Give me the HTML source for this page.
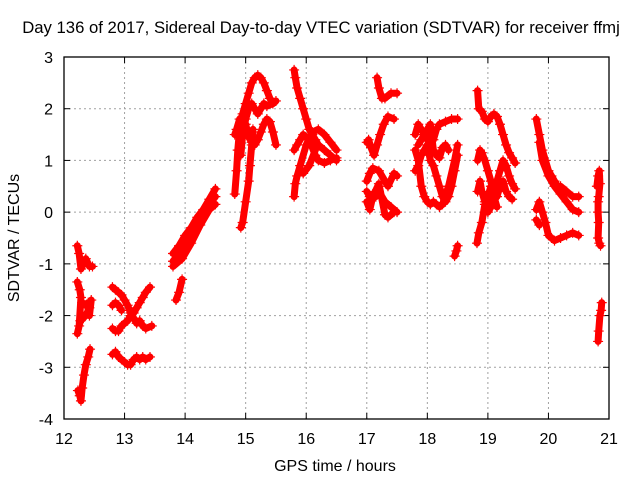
<!DOCTYPE html>
<html><head><meta charset="utf-8"><style>
body{margin:0;background:#fff}
svg{display:block;font-family:"Liberation Sans",sans-serif}
</style></head><body>
<svg id="chart" width="640" height="480">
<rect width="640" height="480" fill="#fff"/>
<text x="321" y="33" text-anchor="middle" font-size="16.7">Day 136 of 2017, Sidereal Day-to-day VTEC variation (SDTVAR) for receiver ffmj</text>
<text x="335" y="471" text-anchor="middle" font-size="16">GPS time / hours</text>
<text transform="translate(19,238) rotate(-90)" text-anchor="middle" font-size="16">SDTVAR / TECUs</text>
<g id="grid"></g><g id="ticks"></g><g id="marks"></g>
<rect x="64" y="57" width="545" height="362" fill="none" stroke="#000" stroke-width="1.3"/>
</svg>
<script>
const xTicks=[12,13,14,15,16,17,18,19,20,21];
const yTicks=[3,2,1,0,-1,-2,-3,-4];
const arcs={
a1:[[12.22,-0.65],[12.25,-0.8],[12.28,-1.1],[12.32,-1.0],[12.36,-0.9],[12.42,-1.05],[12.47,-1.05]],
a2:[[12.22,-1.35],[12.26,-1.5],[12.28,-1.65],[12.25,-2.2],[12.22,-2.35],[12.27,-2.1],[12.32,-2.05],[12.38,-1.95],[12.42,-1.85],[12.45,-1.7],[12.42,-2.0]],
a2b:[[12.3,-1.75],[12.35,-1.8],[12.4,-1.75]],
a3:[[12.23,-3.45],[12.26,-3.55],[12.28,-3.65],[12.3,-3.4],[12.33,-3.15],[12.36,-2.95],[12.4,-2.8],[12.43,-2.65]],
b1:[[12.8,-1.45],[12.85,-1.5],[12.9,-1.55],[12.95,-1.6],[13.0,-1.7],[13.05,-1.8],[13.1,-1.95],[13.15,-2.05],[13.2,-2.15],[13.25,-2.1],[13.3,-2.2],[13.35,-2.25],[13.45,-2.2]],
b2:[[12.8,-2.25],[12.85,-2.3],[12.9,-2.3],[12.95,-2.2],[13.0,-2.15],[13.05,-2.1],[13.1,-2.0],[13.15,-1.95],[13.2,-1.85],[13.25,-1.75],[13.3,-1.65],[13.35,-1.55],[13.42,-1.45]],
b3:[[12.8,-1.8],[12.85,-1.75],[12.9,-1.8],[12.95,-1.9]],
b4:[[12.8,-2.75],[12.85,-2.7],[12.9,-2.8],[12.95,-2.85],[13.0,-2.9],[13.05,-2.95],[13.1,-2.95],[13.15,-2.85],[13.2,-2.8],[13.25,-2.85],[13.3,-2.8],[13.35,-2.85],[13.42,-2.8]],
c1:[[13.8,-0.8],[13.9,-0.65],[14.0,-0.45],[14.1,-0.3],[14.2,-0.1],[14.3,0.05],[14.4,0.25],[14.5,0.45]],
c1b:[[13.8,-0.95],[13.9,-0.8],[14.0,-0.6],[14.1,-0.45],[14.2,-0.2],[14.3,-0.05],[14.4,0.15],[14.5,0.3]],
c2:[[13.8,-1.05],[13.95,-0.9],[14.1,-0.6],[14.25,-0.25],[14.4,0.05],[14.5,0.15]],
c3:[[13.85,-1.7],[13.9,-1.55],[13.95,-1.3]],
d1:[[14.82,0.35],[14.85,0.8],[14.87,1.2],[14.9,1.6],[14.95,1.9],[15.0,2.1],[15.05,2.3],[15.1,2.5],[15.15,2.6],[15.2,2.65],[15.25,2.6],[15.3,2.5],[15.35,2.35],[15.4,2.2],[15.45,2.1]],
d2:[[14.82,1.5],[14.85,1.6],[14.9,1.8],[14.95,1.85],[15.0,1.7],[15.05,1.45],[15.1,1.35],[15.15,1.3],[15.2,1.4],[15.25,1.55],[15.3,1.7],[15.35,1.8],[15.4,1.75],[15.45,1.55],[15.5,1.3]],
d3:[[14.87,1.2],[14.92,1.1],[14.95,1.5],[15.0,1.8],[15.05,2.0],[15.1,2.1],[15.15,2.0],[15.2,1.9],[15.25,2.0],[15.3,2.1],[15.35,2.05],[15.45,2.1],[15.5,2.15]],
d4:[[14.92,-0.3],[14.95,-0.2],[15.0,0.2],[15.05,0.6],[15.07,0.9],[15.1,1.3],[15.12,1.6]],
e1:[[15.8,2.75],[15.82,2.6],[15.85,2.4],[15.9,2.2],[15.95,2.0],[16.0,1.8],[16.05,1.6],[16.1,1.5],[16.15,1.4],[16.2,1.3],[16.3,1.2],[16.4,1.1],[16.5,1.0]],
e2:[[15.8,1.2],[15.85,1.3],[15.9,1.4],[15.95,1.5],[16.05,1.4],[16.1,1.25],[16.15,1.1],[16.2,1.0],[16.3,0.95],[16.4,1.0],[16.5,1.05]],
e3:[[15.8,0.3],[15.82,0.55],[15.85,0.7],[15.9,0.9],[16.0,1.3],[16.1,1.55],[16.2,1.6],[16.3,1.5],[16.4,1.35],[16.5,1.2]],
e4:[[15.95,0.75],[16.05,0.9],[16.15,1.2]],
f1:[[17.0,0.4],[17.05,0.3],[17.1,0.35],[17.15,0.3],[17.2,0.4],[17.3,0.2],[17.4,0.1],[17.5,0.0]],
f2:[[17.0,1.35],[17.03,1.4],[17.07,1.25],[17.12,1.1],[17.17,1.3],[17.22,1.5],[17.28,1.7],[17.35,1.85],[17.45,1.8]],
f3:[[17.0,0.6],[17.05,0.75],[17.1,0.85],[17.2,0.8],[17.3,0.6],[17.35,0.5],[17.45,0.75],[17.5,0.7]],
f4:[[17.17,2.6],[17.2,2.4],[17.25,2.2],[17.3,2.2],[17.4,2.3],[17.5,2.3]],
f5:[[17.0,0.2],[17.05,0.05],[17.1,0.3],[17.2,0.55],[17.3,-0.05],[17.35,-0.1],[17.45,0.0]],
g1:[[17.8,1.5],[17.85,1.7],[17.9,1.6],[17.95,1.5],[18.0,1.4],[18.05,1.3],[18.1,1.4],[18.15,1.6],[18.2,1.7],[18.3,1.75],[18.4,1.8],[18.5,1.8]],
g2:[[17.8,0.8],[17.85,0.9],[17.9,1.1],[17.95,1.2],[18.0,1.3],[18.05,1.0],[18.1,0.9],[18.15,0.7],[18.2,0.5],[18.25,0.3],[18.3,0.2],[18.35,0.3],[18.4,0.5],[18.45,0.8],[18.5,1.1]],
g3:[[17.8,1.2],[17.85,1.0],[17.9,0.5],[17.95,0.3],[18.0,0.2],[18.05,0.15],[18.1,0.2],[18.15,0.15],[18.2,0.1],[18.25,0.15],[18.35,0.5],[18.45,1.0],[18.5,1.3]],
g4:[[17.85,1.3],[17.9,1.4],[18.0,1.6],[18.05,1.7],[18.1,1.2],[18.15,1.1],[18.2,1.05],[18.25,1.25],[18.3,1.3],[18.35,1.2]],
g5:[[18.45,-0.85],[18.48,-0.75],[18.5,-0.65]],
h1:[[18.83,2.35],[18.85,2.0],[18.9,1.95],[18.95,1.8],[19.0,1.75],[19.05,1.85],[19.1,1.9],[19.15,1.85],[19.2,1.7],[19.25,1.5],[19.3,1.3],[19.35,1.15],[19.4,1.05],[19.45,0.95]],
h2:[[18.83,1.0],[18.87,1.2],[18.9,1.15],[18.95,1.0],[19.0,0.8],[19.05,0.6],[19.1,0.4],[19.15,0.6],[19.2,0.8],[19.25,1.0],[19.3,0.9],[19.35,0.7],[19.4,0.55],[19.45,0.45]],
h3:[[18.83,0.4],[18.87,0.6],[18.9,0.4],[18.95,0.2],[19.0,0.0],[19.05,0.1],[19.1,0.25],[19.15,0.3],[19.2,0.5],[19.25,0.6],[19.3,0.4],[19.35,0.3],[19.4,0.25]],
h4:[[18.82,-0.6],[18.85,-0.4],[18.9,-0.2],[18.95,0.15],[19.0,0.3],[19.05,0.5],[19.1,0.3],[19.15,0.1]],
i1:[[19.8,1.8],[19.85,1.5],[19.9,1.2],[19.95,1.0],[20.0,0.8],[20.05,0.7],[20.1,0.6],[20.15,0.5],[20.2,0.5],[20.3,0.4],[20.4,0.3],[20.5,0.3]],
i2:[[19.8,0.05],[19.85,0.2],[19.9,0.0],[19.95,-0.2],[20.0,-0.45],[20.05,-0.5],[20.1,-0.55],[20.2,-0.5],[20.3,-0.45],[20.4,-0.4],[20.5,-0.45]],
i3:[[19.85,1.35],[19.9,1.0],[20.0,0.7],[20.1,0.5],[20.2,0.35],[20.3,0.2],[20.4,0.05],[20.5,0.0]],
i4:[[19.8,-0.15],[19.85,-0.25]],
j1:[[20.8,0.5],[20.82,0.7],[20.84,0.8],[20.85,0.55],[20.83,0.3],[20.82,0.2],[20.82,0.0],[20.83,-0.2],[20.82,-0.5],[20.84,-0.6],[20.86,-0.65]],
j2:[[20.82,-2.5],[20.83,-2.3],[20.85,-2.0],[20.87,-1.9],[20.88,-1.75]]
};
const NS="http://www.w3.org/2000/svg";
const L=64,R=609,T=57,B=419;
const xs=v=>L+(v-12)/9*(R-L);
const ys=v=>T+(3-v)/7*(B-T);
function mk(tag,attrs,parent){const e=document.createElementNS(NS,tag);for(const k in attrs)e.setAttribute(k,attrs[k]);document.getElementById(parent).appendChild(e);return e;}
xTicks.forEach(t=>{
  const x=xs(t);
  if(t>12&&t<21){const g=mk('line',{x1:x,x2:x,y1:T,y2:B,stroke:'#a0a0a0','stroke-dasharray':'2,3'},'grid');
  
  }
  mk('line',{x1:x,x2:x,y1:B,y2:B-6,stroke:'#000'},'ticks');
  mk('line',{x1:x,x2:x,y1:T,y2:T+6,stroke:'#000'},'ticks');
  const tx=mk('text',{x:x,y:444,'text-anchor':'middle','font-size':'16'},'ticks');
  tx.textContent=t;
  
  
});
yTicks.forEach(t=>{
  const y=ys(t);
  if(t<3&&t>-4){const g=mk('line',{x1:L,x2:R,y1:y,y2:y,stroke:'#a0a0a0','stroke-dasharray':'2,3'},'grid');
  
  }
  mk('line',{x1:L,x2:L+6,y1:y,y2:y,stroke:'#000'},'ticks');
  mk('line',{x1:R,x2:R-6,y1:y,y2:y,stroke:'#000'},'ticks');
  const tx=mk('text',{x:53,y:y+6,'text-anchor':'end','font-size':'16'},'ticks');
  tx.textContent=t;
  
  
});
for(const k in arcs){
  const pts=arcs[k];
  const pl=mk('polyline',{points:pts.map(p=>xs(p[0])+','+ys(p[1])).join(' '),fill:'none',stroke:'#f00','stroke-width':'7','stroke-linejoin':'round','stroke-linecap':'round'},'marks');
  
  
  pts.forEach(p=>{
    const x=xs(p[0]),y=ys(p[1]);
    const m=mk('path',{d:`M${x-5},${y}H${x+5}M${x},${y-5}V${y+5}`,stroke:'#f00','stroke-width':'1.2'},'marks');
    
    
  });
}
</script>
</body></html>
